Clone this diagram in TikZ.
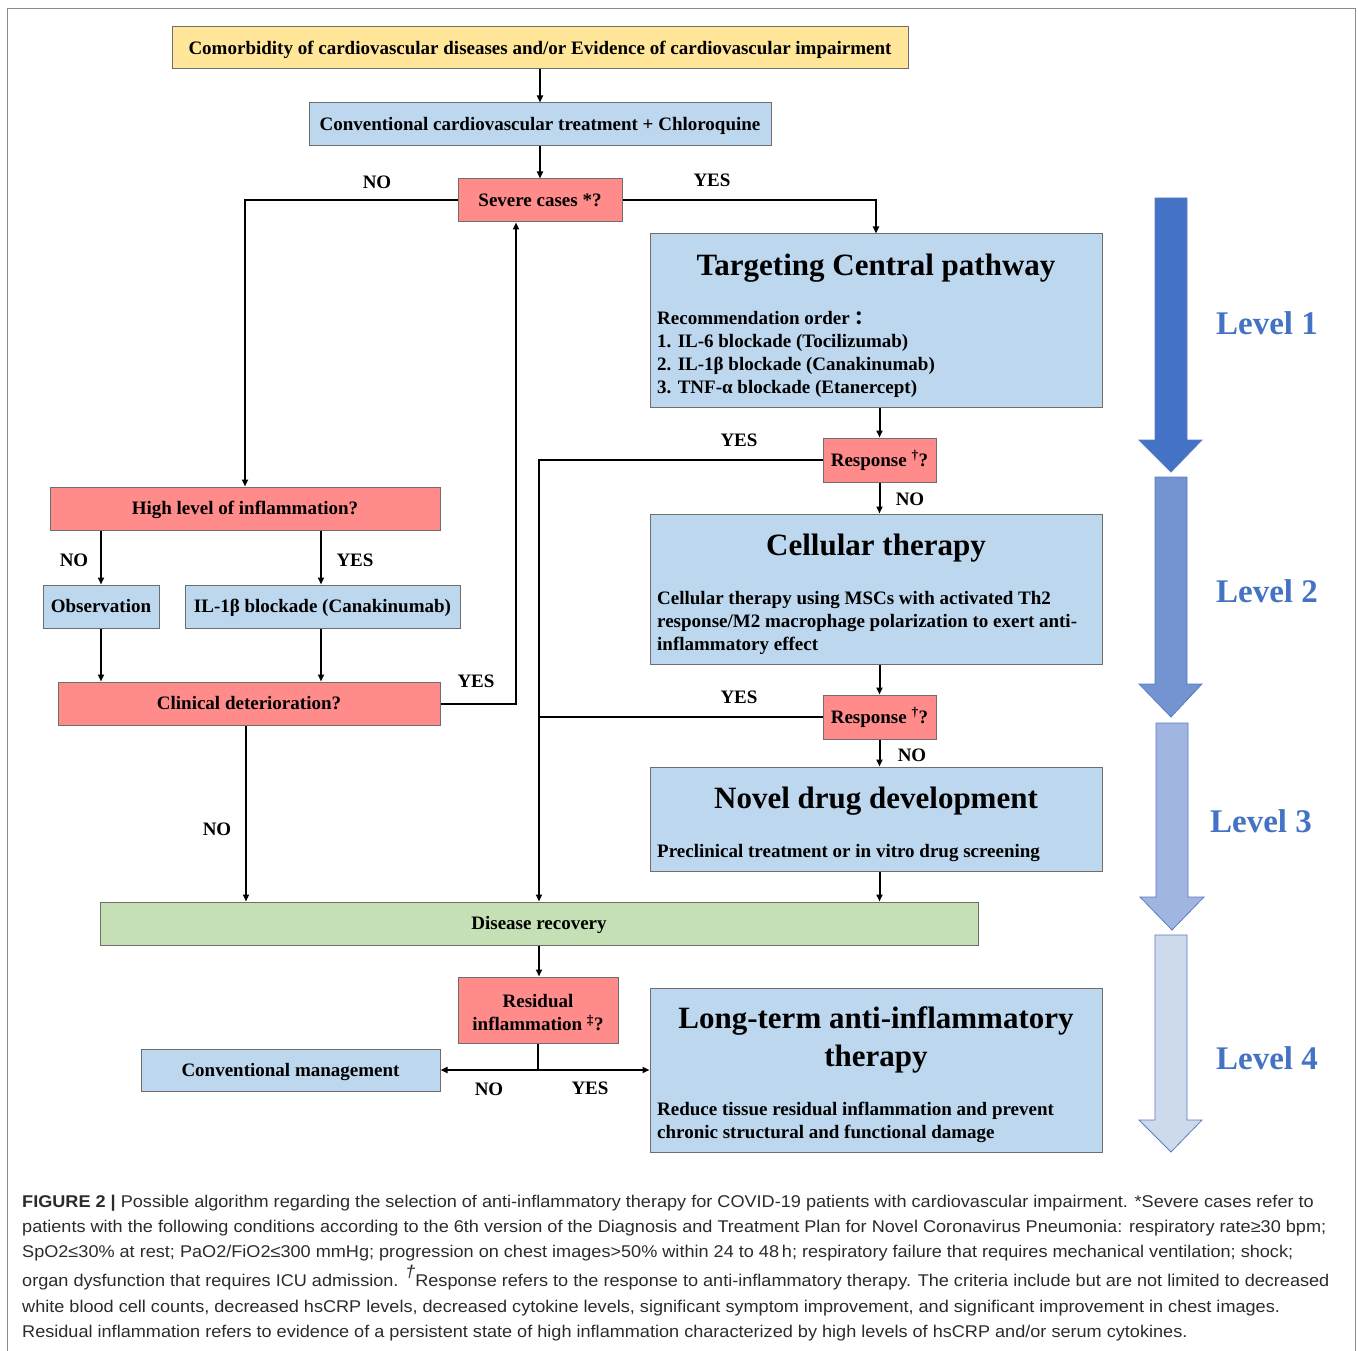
\documentclass[tikz,border=0pt]{standalone}
\usepackage{fontspec}
\setmainfont{Liberation Serif}
\setsansfont{Liberation Sans}
\newfontfamily\cjkfont{Noto Sans CJK SC}
\newfontfamily\capfont{Liberation Sans}[FakeStretch=1.065]
\usetikzlibrary{arrows.meta,calc}

\definecolor{boxyellow}{HTML}{FFE699}
\definecolor{boxblue}{HTML}{BDD7EE}
\definecolor{boxred}{HTML}{FF8B8B}
\definecolor{boxgreen}{HTML}{C5E0B4}
\definecolor{boxline}{HTML}{6E6E6E}
\definecolor{levelone}{HTML}{4472C4}
\definecolor{leveltwo}{HTML}{7394D0}
\definecolor{levelthree}{HTML}{A1B5E1}
\definecolor{levelfour}{HTML}{CCDAEB}
\definecolor{levelrim}{HTML}{5B7CC4}
\definecolor{captext}{HTML}{2B2B2B}
\definecolor{frameline}{HTML}{8A8A8A}

\tikzset{
	box/.style={draw=boxline, line width=1pt, inner sep=0pt, text height=14pt, text depth=1.5pt,
		font=\fontsize{19}{23}\selectfont\bfseries},
	bluebox/.style={box, fill=boxblue},
	redbox/.style={box, fill=boxred},
	flow/.style={line width=2pt, -{Triangle[length=7pt,width=6pt]}},
	link/.style={line width=2pt},
	answer/.style={inner sep=0pt, font=\fontsize{19}{23}\selectfont\bfseries},
	heading/.style={inner sep=0pt, font=\fontsize{31}{38}\selectfont\bfseries},
	body/.style={inner sep=0pt, anchor=north west, align=left, font=\fontsize{19}{23}\selectfont\bfseries},
	level/.style={inner sep=0pt, text=levelone, font=\fontsize{33}{38}\selectfont\bfseries},
	caption/.style={inner sep=0pt, anchor=base west, text=captext, font=\capfont\fontsize{17}{20}\selectfont},
}

\begin{document}
\begin{tikzpicture}[x=1pt,y=-1pt]
	\useasboundingbox (0,0) rectangle (1358,1351);
	\draw[frameline, line width=1.2pt] (7.5,1351) -- (7.5,8.5) -- (1355.5,8.5) -- (1355.5,1351);

	% main column
	\node[box, fill=boxyellow, minimum width=736, minimum height=42] (comorb) at (540,48) {Comorbidity of cardiovascular diseases and/or Evidence of cardiovascular impairment};
	\node[bluebox, minimum width=462, minimum height=43] (conv) at (540,124.5) {Conventional cardiovascular treatment + Chloroquine};
	\node[redbox, minimum width=164, minimum height=43] (severe) at (540,200.5) {Severe cases *?};

	\node[bluebox, minimum width=452, minimum height=173] (target) at (876,320.5) {};
	\node[heading] (targettitle) at (876,268) {Targeting Central pathway};
	\node[body] (targetbody) at (657,311) {Recommendation order {\cjkfont ：}\\1. IL-6 blockade (Tocilizumab)\\2. IL-1β blockade (Canakinumab)\\3. TNF-α blockade (Etanercept)};
	\node[redbox, minimum width=113, minimum height=44] (resp1) at (879.5,460) {Response \textsuperscript{†}?};

	\node[bluebox, minimum width=452, minimum height=150] (cell) at (876,589) {};
	\node[heading] (celltitle) at (876,548) {Cellular therapy};
	\node[body] (cellbody) at (657,591) {Cellular therapy using MSCs with activated Th2\\response/M2 macrophage polarization to exert anti-\\inflammatory effect};
	\node[redbox, minimum width=113, minimum height=44] (resp2) at (879.5,717) {Response \textsuperscript{†}?};

	\node[bluebox, minimum width=452, minimum height=104] (novel) at (876,819) {};
	\node[heading] (noveltitle) at (876,801) {Novel drug development};
	\node[body] (novelbody) at (657,844) {Preclinical treatment or in vitro drug screening};

	% left column
	\node[redbox, minimum width=390, minimum height=43] (highinf) at (245,508.5) {High level of inflammation?};
	\node[bluebox, minimum width=116, minimum height=43] (obs) at (101,606.5) {Observation};
	\node[bluebox, minimum width=275, minimum height=43] (il1b) at (322.5,606.5) {IL-1β blockade (Canakinumab)};
	\node[redbox, minimum width=382, minimum height=43] (clin) at (249,703.5) {Clinical deterioration?};

	% bottom
	\node[box, fill=boxgreen, minimum width=878, minimum height=43] (recov) at (539,923.5) {Disease recovery};
	\node[redbox, minimum width=160, minimum height=66] (resid) at (538,1010) {};
	\node[answer, align=center] (residtext) at (538,1013) {Residual\\inflammation \textsuperscript{‡}?};
	\node[bluebox, minimum width=299, minimum height=42] (convmgmt) at (290.5,1070) {Conventional management};
	\node[bluebox, minimum width=452, minimum height=164] (longterm) at (876,1070) {};
	\node[heading, align=center] (longtitle) at (876,1040) {Long-term anti-inflammatory\\therapy};
	\node[body] (longbody) at (657,1102) {Reduce tissue residual inflammation and prevent\\chronic structural and functional damage};

	% connectors
	\draw[flow] (comorb) -- (conv);
	\draw[flow] (conv) -- (severe);
	\draw[flow] (severe.west) -| (highinf.north);
	\draw[flow] (severe.east) -| (target.north);
	\draw[flow] (resp1.north |- target.south) -- (resp1.north);
	\draw[flow] (resp1.west) -| (recov.north);
	\draw[flow] (resp1.south) -- (resp1.south |- cell.north);
	\draw[flow] (resp2.north |- cell.south) -- (resp2.north);
	\draw[link] (resp2.west) -- (recov.north |- resp2.west);
	\draw[flow] (resp2.south) -- (resp2.south |- novel.north);
	\draw[flow] (resp1.south |- novel.south) -- (resp1.south |- recov.north);
	\draw[flow] (obs.north |- highinf.south) -- (obs.north);
	\draw[flow] ($(il1b.north |- highinf.south)+(-1.5,0)$) -- ($(il1b.north)+(-1.5,0)$);
	\draw[flow] (obs.south) -- (obs.south |- clin.north);
	\draw[flow] ($(il1b.south)+(-1.5,0)$) -- ($(il1b.south |- clin.north)+(-1.5,0)$);
	\coordinate (sevin) at ($(severe.south)+(-24,0)$);
	\draw[flow] (clin.east) -| (sevin);
	\draw[flow] ($(clin.south)+(-3,0)$) -- ($(clin.south |- recov.north)+(-3,0)$);
	\draw[flow] (recov.south) -- (recov.south |- resid.north);
	\coordinate (split) at (resid.south |- convmgmt.east);
	\draw[link] (resid.south) -- (split);
	\draw[line width=2pt, {Triangle[length=7pt,width=6pt]}-{Triangle[length=7pt,width=6pt]}] (convmgmt.east) -- (longterm.west |- convmgmt.east);

	% answers
	\node[answer] (noA) at (377,182) {NO};
	\node[answer] (yesA) at (712,180) {YES};
	\node[answer] (yesB) at (739,440) {YES};
	\node[answer] (noB) at (910,499) {NO};
	\node[answer] (yesC) at (739,697) {YES};
	\node[answer] (noC) at (912,755) {NO};
	\node[answer] (noD) at (74,560) {NO};
	\node[answer] (yesD) at (355,560) {YES};
	\node[answer] (yesE) at (476,681) {YES};
	\node[answer] (noE) at (217,829) {NO};
	\node[answer] (noF) at (489,1089) {NO};
	\node[answer] (yesF) at (590,1088) {YES};

	% level arrows
	\filldraw[levelone, draw=levelrim, line width=0.8pt] (1155,198) -- (1187,198) -- (1187,440) -- (1202,440) -- (1171,472) -- (1139,440) -- (1155,440) -- cycle;
	\filldraw[leveltwo, draw=levelrim, line width=0.8pt] (1155,477) -- (1187,477) -- (1187,684) -- (1202,684) -- (1171,717) -- (1139,684) -- (1155,684) -- cycle;
	\filldraw[levelthree, draw=levelrim, line width=0.8pt] (1156,723) -- (1188,723) -- (1188,897) -- (1204,897) -- (1172,930) -- (1140,897) -- (1156,897) -- cycle;
	\filldraw[levelfour, draw=levelrim, line width=0.8pt] (1155,935) -- (1187,935) -- (1187,1120) -- (1202,1120) -- (1171,1152) -- (1139,1120) -- (1155,1120) -- cycle;
	\node[level] (lvlone) at (1267,323) {Level 1};
	\node[level] (lvltwo) at (1267,591) {Level 2};
	\node[level] (lvlthree) at (1261,821) {Level 3};
	\node[level] (lvlfour) at (1267,1058) {Level 4};

	% caption
	\node[caption] (capA) at (22,1207) {\textbf{FIGURE 2 |} Possible algorithm regarding the selection of anti-inflammatory therapy for COVID-19 patients with cardiovascular impairment. *Severe cases refer to};
	\node[caption] (capB) at (22,1232) {patients with the following conditions according to the 6th version of the Diagnosis and Treatment Plan for Novel Coronavirus Pneumonia: respiratory rate≥30 bpm;};
	\node[caption] (capC) at (22,1257) {SpO2≤30\% at rest; PaO2/FiO2≤300 mmHg; progression on chest images>50\% within 24 to 48\,h; respiratory failure that requires mechanical ventilation; shock;};
	\node[caption] (capD) at (22,1286) {organ dysfunction that requires ICU admission. \raisebox{9pt}{\textit{†}}Response refers to the response to anti-inflammatory therapy. The criteria include but are not limited to decreased};
	\node[caption] (capE) at (22,1312) {white blood cell counts, decreased hsCRP levels, decreased cytokine levels, significant symptom improvement, and significant improvement in chest images.};
	\node[caption] (capF) at (22,1337) {Residual inflammation refers to evidence of a persistent state of high inflammation characterized by high levels of hsCRP and/or serum cytokines.};
\end{tikzpicture}
\end{document}
